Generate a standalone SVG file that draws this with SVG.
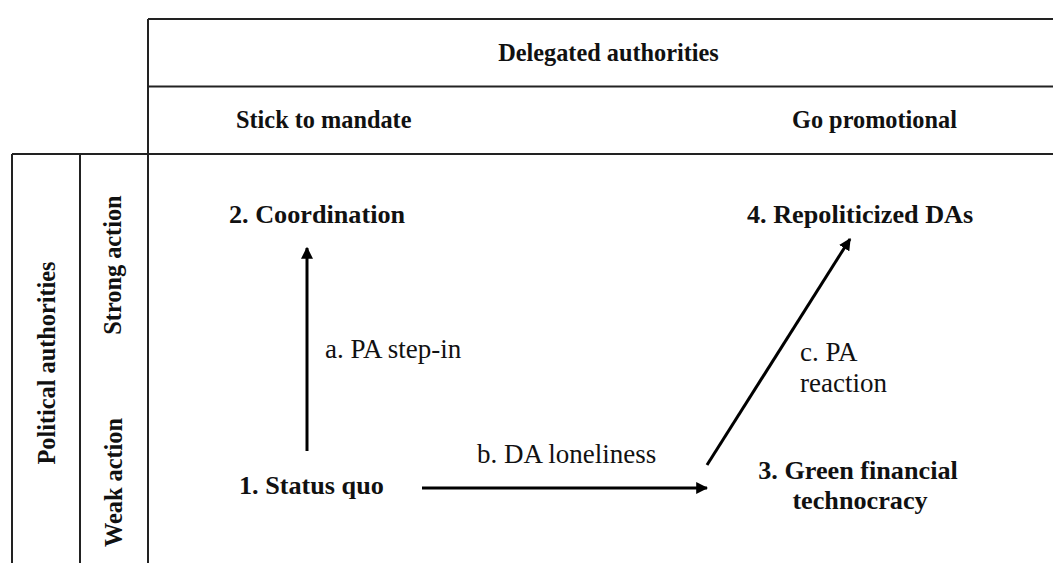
<svg xmlns="http://www.w3.org/2000/svg" width="1053" height="563" viewBox="0 0 1053 563">
<style>
.grid{stroke:#222;stroke-width:2;fill:none}
.b{font-family:"Liberation Serif","Times New Roman",serif;font-weight:bold;font-size:24.3px;fill:#111}
.n{font-family:"Liberation Serif","Times New Roman",serif;font-weight:bold;font-size:26.2px;fill:#111}
.r{font-family:"Liberation Serif","Times New Roman",serif;font-size:27px;fill:#111}
.arr{stroke:#000;stroke-width:3;fill:none;marker-end:url(#ah)}
</style>
<defs>
<marker id="ah" viewBox="0 0 10 10" refX="9" refY="5" markerWidth="4" markerHeight="4" markerUnits="strokeWidth" orient="auto">
<path d="M0,0 L10,5 L0,10 z" fill="#000"/>
</marker>
</defs>
<rect width="1053" height="563" fill="#fff"/>
<g id="table">
<line class="grid" x1="148" y1="19" x2="1053" y2="19"/>
<line class="grid" x1="148" y1="86.5" x2="1053" y2="86.5"/>
<line class="grid" x1="12" y1="154" x2="1053" y2="154"/>
<line class="grid" x1="148" y1="19" x2="148" y2="563"/>
<line class="grid" x1="12" y1="154" x2="12" y2="563"/>
<line class="grid" x1="80" y1="154" x2="80" y2="563"/>
</g>
<g id="headers">
<text class="b" x="608.5" y="61" text-anchor="middle">Delegated authorities</text>
<text class="b" x="236" y="128">Stick to mandate</text>
<text class="b" x="792" y="128">Go promotional</text>
<text class="b" transform="translate(55,363) rotate(-90)" text-anchor="middle">Political authorities</text>
<text class="b" transform="translate(121,265) rotate(-90)" text-anchor="middle">Strong action</text>
<text class="b" transform="translate(122,482.5) rotate(-90)" text-anchor="middle">Weak action</text>
</g>
<g id="node-2"><text class="n" x="229" y="223">2. Coordination</text></g>
<g id="node-4"><text class="n" x="747" y="223">4. Repoliticized DAs</text></g>
<g id="node-1"><text class="n" x="239" y="494">1. Status quo</text></g>
<g id="node-3"><text class="n" x="858" y="479" text-anchor="middle">3. Green financial</text><text class="n" x="860" y="509" text-anchor="middle">technocracy</text></g>
<g id="connectors">
<line class="arr" x1="307" y1="451" x2="307" y2="248"/>
<line class="arr" x1="422" y1="488" x2="707" y2="488"/>
<line class="arr" x1="707" y1="465" x2="850" y2="239"/>
<text class="r" x="325" y="358">a. PA step-in</text>
<text class="r" x="477" y="463">b. DA loneliness</text>
<text class="r" x="800" y="361">c. PA</text>
<text class="r" x="800" y="392">reaction</text>
</g>
</svg>
